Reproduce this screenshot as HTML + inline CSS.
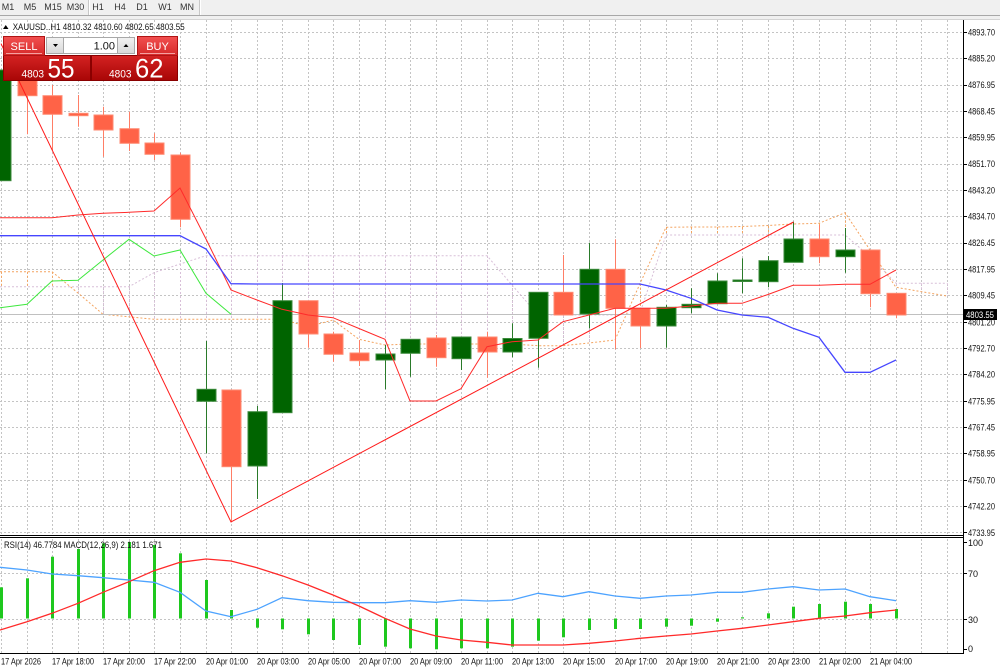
<!DOCTYPE html>
<html><head><meta charset="utf-8"><style>
html,body{margin:0;padding:0;background:#fff;}
svg{display:block;}
text{font-family:"Liberation Sans",Arial,sans-serif;}
</style></head><body>
<svg width="1000" height="667" viewBox="0 0 1000 667" xmlns="http://www.w3.org/2000/svg">
<defs>
<linearGradient id="gBtn" x1="0" y1="0" x2="0" y2="1"><stop offset="0" stop-color="#f25050"/><stop offset="1" stop-color="#d62a2a"/></linearGradient>
<linearGradient id="gPx" x1="0" y1="0" x2="0" y2="1"><stop offset="0" stop-color="#d42222"/><stop offset="1" stop-color="#a80606"/></linearGradient>
<linearGradient id="gGray" x1="0" y1="0" x2="0" y2="1"><stop offset="0" stop-color="#f2f2f2"/><stop offset="1" stop-color="#d8d8d8"/></linearGradient>
</defs>
<rect x="0" y="0" width="1000" height="667" fill="#fff"/>
<!-- toolbar -->
<rect x="0" y="0" width="1000" height="20" fill="#f0f0f0"/>
<line x1="0" y1="15.5" x2="1000" y2="15.5" stroke="#a8a8a8"/>
<line x1="0" y1="19.5" x2="1000" y2="19.5" stroke="#d4d4d4"/>
<line x1="88.5" y1="0" x2="88.5" y2="15" stroke="#c8c8c8"/>
<line x1="89.5" y1="0" x2="89.5" y2="15" stroke="#ffffff"/>
<line x1="199.5" y1="0" x2="199.5" y2="15" stroke="#c8c8c8"/>
<line x1="200.5" y1="0" x2="200.5" y2="15" stroke="#ffffff"/>
<g font-size="9" fill="#333" text-anchor="middle">
<text x="8" y="10">M1</text><text x="30" y="10">M5</text><text x="53" y="10">M15</text><text x="75.5" y="10">M30</text>
<text x="98" y="10">H1</text><text x="120" y="10">H4</text><text x="142" y="10">D1</text><text x="165" y="10">W1</text><text x="187" y="10">MN</text>
</g>

<!-- vertical grid -->
<g stroke="#c4c4c4" stroke-width="1" stroke-dasharray="2,2">
<path d="M1.5 20V535M27.5 20V535M52.5 20V535M78.5 20V535M103.5 20V535M129.5 20V535M154.5 20V535M180.5 20V535M206.5 20V535M231.5 20V535M257.5 20V535M282.5 20V535M308.5 20V535M333.5 20V535M359.5 20V535M385.5 20V535M410.5 20V535M436.5 20V535M461.5 20V535M487.5 20V535M512.5 20V535M538.5 20V535M563.5 20V535M589.5 20V535M615.5 20V535M640.5 20V535M666.5 20V535M691.5 20V535M717.5 20V535M742.5 20V535M768.5 20V535M793.5 20V535M819.5 20V535M845.5 20V535M870.5 20V535M896.5 20V535M921.5 20V535M947.5 20V535"/>
<path d="M1.5 539V653M27.5 539V653M52.5 539V653M78.5 539V653M103.5 539V653M129.5 539V653M154.5 539V653M180.5 539V653M206.5 539V653M231.5 539V653M257.5 539V653M282.5 539V653M308.5 539V653M333.5 539V653M359.5 539V653M385.5 539V653M410.5 539V653M436.5 539V653M461.5 539V653M487.5 539V653M512.5 539V653M538.5 539V653M563.5 539V653M589.5 539V653M615.5 539V653M640.5 539V653M666.5 539V653M691.5 539V653M717.5 539V653M742.5 539V653M768.5 539V653M793.5 539V653M819.5 539V653M845.5 539V653M870.5 539V653M896.5 539V653M921.5 539V653M947.5 539V653"/>
<path d="M0 32.5H963M0 58.5H963M0 85.5H963M0 111.5H963M0 137.5H963M0 164.5H963M0 190.5H963M0 216.5H963M0 243.5H963M0 269.5H963M0 295.5H963M0 322.5H963M0 348.5H963M0 374.5H963M0 401.5H963M0 427.5H963M0 453.5H963M0 480.5H963M0 506.5H963M0 532.5H963"/>
<path d="M0 573.5H963M0 619.5H963"/>
</g>

<!-- cloud histogram -->
<g stroke-width="1" stroke-dasharray="2,2">
<path stroke="#F4A460" d="M1.5 271.7V286.7M27.5 271.7V286.7M52.5 271.7V286.7M640.5 283.6V313M666.5 227V235M691.5 227V235M717.5 227V235M742.5 227V235M768.5 226V235M793.5 224V235M819.5 223.3V235M845.5 212.7V235M870.5 250V256.7"/>
<path stroke="#D8BFD8" d="M78.5 286.7V293M103.5 286.7V314.3M129.5 286.7V316.8M154.5 272.7V319.3M180.5 264V319.3M206.5 255.7V319.3M231.5 255.7V319.3M257.5 255.7V319.3M282.5 255.7V319.3M308.5 255.7V326.7M333.5 255.7V320M359.5 255.7V339.3M385.5 255.7V345M410.5 255.7V344M436.5 255.7V344M461.5 255.7V344M487.5 255.7V344M512.5 285V344M538.5 315V345.7M563.5 315V345.7M589.5 315V343M615.5 315V340M896.5 283.3V287.3M921.5 283.3V291.6M947.5 283.3V296"/>
<polyline fill="none" stroke="#F4A460" points="0,271.7 27,271.7 52,271.7 78,293 103,314.3 129,316.8 154,319.3 180,319.3 206,319.3 231,319.3 257,319.3 282,319.3 308,326.7 333,320 359,339.3 385,345 410,344 436,344 461,344 487,344 512,344 538,345.7 563,345.7 589,343 615,340 640,283.6 666,227.3 691,227 717,227 742,226.5 768,225.5 793,224 819,223.3 845,212.7 870,250 896,287.3 921,291.6 947,296"/>
<polyline fill="none" stroke="#D8BFD8" points="0,286.7 27,286.7 52,286.7 78,286.7 103,286.7 129,286.7 154,272.7 180,264 206,255.7 231,255.7 257,255.7 282,255.7 308,255.7 333,255.7 359,255.7 385,255.7 410,255.7 436,255.7 461,255.7 487,255.7 512,285 538,315 563,315 589,315 615,315 640,313 666,235 691,235 717,235 742,235 768,235 793,235 819,235 845,235 870,256.7 896,283.3 921,283.3 947,283.3"/>
</g>

<!-- current price line -->
<line x1="0" y1="314.5" x2="963" y2="314.5" stroke="#c0c0c0"/>

<!-- candles: wicks -->
<g stroke-width="1">
<path stroke="#ff7e66" d="M27.5 70V134.3M52.5 85V150M78.5 95V126.7M103.5 106.7V156.7M129.5 111.7V151M154.5 133.3V160M180.5 152.7V227.3M231.5 390V522.3M308.5 300.7V347.7M333.5 331.7V361.7M359.5 340V366M436.5 335V366.7M487.5 331.7V377.7M563.5 255V315M615.5 239.3V349.3M640.5 308V348.3M819.5 225V263.3M870.5 250V307.3M896.5 293V318.3"/>
<path stroke="#2a7a2a" d="M1.5 70V181M206.5 341V453.3M257.5 406V499M282.5 283V412.7M385.5 345V389.3M410.5 339V376.7M461.5 337V370M512.5 323.3V357.3M538.5 292V367.7M589.5 242.7V328.3M666.5 305V347.7M691.5 288.3V313.3M717.5 273.3V303.7M742.5 258.3V293.3M768.5 256V287.3M793.5 221.7V262.3M845.5 228V272.7"/>
</g>
<!-- bear bodies -->
<g fill="#FF6347" stroke="#ff8a72" stroke-width="1">
<rect x="18" y="70" width="19" height="25.7"/>
<rect x="43" y="95.7" width="19" height="18.6"/>
<rect x="69" y="113.3" width="19" height="2.4"/>
<rect x="94" y="115" width="19" height="15"/>
<rect x="120" y="128.7" width="19" height="14.6"/>
<rect x="145" y="143" width="19" height="11.3"/>
<rect x="171" y="155" width="19" height="64.3"/>
<rect x="222" y="390" width="19" height="76.7"/>
<rect x="299" y="300.7" width="19" height="33.3"/>
<rect x="324" y="334" width="19" height="20.3"/>
<rect x="350" y="353" width="19" height="7.7"/>
<rect x="427" y="338" width="19" height="19.7"/>
<rect x="478" y="337" width="19" height="15"/>
<rect x="554" y="292.3" width="19" height="22.7"/>
<rect x="606" y="269.3" width="19" height="39"/>
<rect x="631" y="308.3" width="19" height="17.7"/>
<rect x="810" y="239" width="19" height="17.7"/>
<rect x="861" y="250" width="19" height="43.7"/>
<rect x="887" y="293.3" width="19" height="21.7"/>
</g>
<!-- bull bodies -->
<g fill="#006400" stroke="#3b8a3b" stroke-width="1">
<rect x="-8" y="70" width="19" height="110.7"/>
<rect x="197" y="389.3" width="19" height="12"/>
<rect x="248" y="411.7" width="19" height="54.3"/>
<rect x="273" y="300.7" width="19" height="112"/>
<rect x="376" y="354" width="19" height="6"/>
<rect x="401" y="339.3" width="19" height="14"/>
<rect x="452" y="337" width="19" height="21.7"/>
<rect x="503" y="338.5" width="19" height="13.5"/>
<rect x="529" y="292.3" width="19" height="46"/>
<rect x="580" y="269.3" width="19" height="44.7"/>
<rect x="657" y="307.3" width="19" height="18.7"/>
<rect x="682" y="304.3" width="19" height="3.4"/>
<rect x="708" y="281" width="19" height="22.7"/>
<rect x="733" y="280" width="19" height="1.5"/>
<rect x="759" y="260.7" width="19" height="21"/>
<rect x="784" y="239" width="19" height="23.3"/>
<rect x="836" y="250" width="19" height="6.7"/>
</g>

<!-- indicator lines main -->
<polyline fill="none" stroke="#ff2a2a" stroke-width="1" points="0,217.7 27,217.7 52,217.7 78,215 103,213.3 129,212.3 154,211 180,188 206,239 231,290 257,300 282,309.3 308,315 333,317.7 359,328.5 385,339.3 410,401 436,401 461,388.7 487,346.7 512,341.7 538,340 563,321.7 589,315 615,308.3 640,308.3 666,308.3 691,306 717,303.3 742,303.3 768,294.5 793,285.3 819,285.3 845,284.3 870,284.3 896,270"/>
<polyline fill="none" stroke="#4646ff" stroke-width="1.3" points="0,235.7 27,235.7 52,235.7 78,235.7 103,235.7 129,235.7 154,235.7 180,235.7 206,249 231,283.7 257,284 282,284 308,284 333,284 359,284 385,284 410,284 436,284 461,284 487,284 512,284 538,284 563,284 589,284 615,284 640,284 666,290 691,298.3 717,310 742,315 768,317.3 793,328.3 819,337.3 845,372.3 870,372.3 896,360"/>
<polyline fill="none" stroke="#3ee83e" stroke-width="1" points="0,307.7 27,304.3 52,281 78,280.3 103,260 129,239.3 154,256 180,250 206,293.3 231,314.3"/>
<polyline fill="none" stroke="#ff1a1a" stroke-width="1" points="1,43.6 231,522 793.5,222"/>

<!-- panel borders -->
<line x1="0" y1="535.5" x2="964" y2="535.5" stroke="#000"/>
<line x1="0" y1="537.5" x2="964" y2="537.5" stroke="#000"/>
<line x1="0" y1="653.5" x2="964" y2="653.5" stroke="#000"/>
<line x1="963.5" y1="20" x2="963.5" y2="654" stroke="#000"/>

<!-- MACD bars -->
<g fill="#1ec81e">
<rect x="0" y="587.3" width="3" height="31.2"/>
<rect x="26" y="578.3" width="3" height="40.2"/>
<rect x="51" y="556.7" width="3" height="61.8"/>
<rect x="77" y="549" width="3" height="69.5"/>
<rect x="102" y="543.3" width="3" height="75.2"/>
<rect x="128" y="542" width="3" height="76.5"/>
<rect x="153" y="545" width="3" height="73.5"/>
<rect x="179" y="553.3" width="3" height="65.2"/>
<rect x="205" y="580" width="3" height="38.5"/>
<rect x="230" y="610" width="3" height="8.5"/>
<rect x="256" y="618.5" width="3" height="9.2"/>
<rect x="281" y="618.5" width="3" height="10.8"/>
<rect x="307" y="618.5" width="3" height="15.8"/>
<rect x="332" y="618.5" width="3" height="21.5"/>
<rect x="358" y="618.5" width="3" height="26.5"/>
<rect x="384" y="618.5" width="3" height="28.2"/>
<rect x="409" y="618.5" width="3" height="29.8"/>
<rect x="435" y="618.5" width="3" height="30.8"/>
<rect x="460" y="618.5" width="3" height="29.8"/>
<rect x="486" y="618.5" width="3" height="29.8"/>
<rect x="511" y="618.5" width="3" height="28.2"/>
<rect x="537" y="618.5" width="3" height="22.2"/>
<rect x="562" y="618.5" width="3" height="18.8"/>
<rect x="588" y="618.5" width="3" height="11.5"/>
<rect x="614" y="618.5" width="3" height="10.5"/>
<rect x="639" y="618.5" width="3" height="10.5"/>
<rect x="665" y="618.5" width="3" height="8.2"/>
<rect x="690" y="618.5" width="3" height="7.2"/>
<rect x="716" y="618.5" width="3" height="3.2"/>
<rect x="741" y="617.3" width="3" height="1.2"/>
<rect x="767" y="613.3" width="3" height="5.2"/>
<rect x="792" y="606.7" width="3" height="11.8"/>
<rect x="818" y="604" width="3" height="14.5"/>
<rect x="844" y="601.7" width="3" height="16.8"/>
<rect x="869" y="604" width="3" height="14.5"/>
<rect x="895" y="609" width="3" height="9.5"/>
</g>
<polyline fill="none" stroke="#4da3ff" stroke-width="1.3" points="0,567.3 27,570 52,574 78,575.7 103,577.7 129,580 154,582.3 180,592.3 206,611 231,616.7 257,609.3 282,597.7 308,600.7 333,602.3 359,602.7 385,602.7 410,600.7 436,602.3 461,600 487,601 512,600 538,593.3 563,596.7 589,591.7 615,596 640,598.3 666,596 691,595 717,592.3 742,592.3 768,589 793,586.7 819,590 845,589 870,596.7 896,600.7"/>
<polyline fill="none" stroke="#ff2a2a" stroke-width="1.3" points="0,630 27,621.7 52,613.3 78,603.3 103,592.3 129,581.7 154,570.7 180,562.3 206,559 231,561 257,567.7 282,575.7 308,585 333,595 359,606 385,618.3 410,629 436,636 461,640 487,642.3 512,645 538,645 563,645 589,643.3 615,641 640,638.3 666,636 691,634 717,631 742,628.3 768,625 793,621.7 819,618.3 845,616 870,612.7 896,610"/>
<text x="4" y="548" font-size="9" fill="#111" textLength="158" lengthAdjust="spacingAndGlyphs">RSI(14) 46.7784  MACD(12,26,9) 2.181 1.671</text>

<!-- price axis -->
<g stroke="#000">
<path d="M963 32.5H967M963 58.5H967M963 85.5H967M963 111.5H967M963 137.5H967M963 164.5H967M963 190.5H967M963 216.5H967M963 243.5H967M963 269.5H967M963 295.5H967M963 322.5H967M963 348.5H967M963 374.5H967M963 401.5H967M963 427.5H967M963 453.5H967M963 480.5H967M963 506.5H967M963 532.5H967M963 542.5H967M963 573.5H967M963 619.5H967M963 649.5H967"/>
</g>
<g font-size="9" fill="#111">
<text x="968" y="35.5" textLength="27" lengthAdjust="spacingAndGlyphs">4893.70</text>
<text x="968" y="61.5" textLength="27" lengthAdjust="spacingAndGlyphs">4885.20</text>
<text x="968" y="88" textLength="27" lengthAdjust="spacingAndGlyphs">4876.95</text>
<text x="968" y="114.5" textLength="27" lengthAdjust="spacingAndGlyphs">4868.45</text>
<text x="968" y="140.5" textLength="27" lengthAdjust="spacingAndGlyphs">4859.95</text>
<text x="968" y="167" textLength="27" lengthAdjust="spacingAndGlyphs">4851.70</text>
<text x="968" y="193.5" textLength="27" lengthAdjust="spacingAndGlyphs">4843.20</text>
<text x="968" y="219.5" textLength="27" lengthAdjust="spacingAndGlyphs">4834.70</text>
<text x="968" y="246" textLength="27" lengthAdjust="spacingAndGlyphs">4826.45</text>
<text x="968" y="272.5" textLength="27" lengthAdjust="spacingAndGlyphs">4817.95</text>
<text x="968" y="298.5" textLength="27" lengthAdjust="spacingAndGlyphs">4809.45</text>
<text x="968" y="325.5" textLength="27" lengthAdjust="spacingAndGlyphs">4801.20</text>
<text x="968" y="351.5" textLength="27" lengthAdjust="spacingAndGlyphs">4792.70</text>
<text x="968" y="377.5" textLength="27" lengthAdjust="spacingAndGlyphs">4784.20</text>
<text x="968" y="404.5" textLength="27" lengthAdjust="spacingAndGlyphs">4775.95</text>
<text x="968" y="430.5" textLength="27" lengthAdjust="spacingAndGlyphs">4767.45</text>
<text x="968" y="456.5" textLength="27" lengthAdjust="spacingAndGlyphs">4758.95</text>
<text x="968" y="483.5" textLength="27" lengthAdjust="spacingAndGlyphs">4750.70</text>
<text x="968" y="509.5" textLength="27" lengthAdjust="spacingAndGlyphs">4742.20</text>
<text x="968" y="536" textLength="27" lengthAdjust="spacingAndGlyphs">4733.95</text>
<text x="968" y="546">100</text>
<text x="968" y="577">70</text>
<text x="968" y="623">30</text>
<text x="968" y="652">0</text>
</g>
<rect x="964" y="309" width="33" height="11" fill="#000"/>
<text x="966" y="318" font-size="9" fill="#fff" textLength="28" lengthAdjust="spacingAndGlyphs">4803.55</text>

<!-- time axis -->
<g font-size="9" fill="#111">
<text x="1" y="664.5" textLength="40" lengthAdjust="spacingAndGlyphs">17 Apr 2026</text>
<text x="52" y="664.5" textLength="42" lengthAdjust="spacingAndGlyphs">17 Apr 18:00</text>
<text x="103" y="664.5" textLength="42" lengthAdjust="spacingAndGlyphs">17 Apr 20:00</text>
<text x="154" y="664.5" textLength="42" lengthAdjust="spacingAndGlyphs">17 Apr 22:00</text>
<text x="206" y="664.5" textLength="42" lengthAdjust="spacingAndGlyphs">20 Apr 01:00</text>
<text x="257" y="664.5" textLength="42" lengthAdjust="spacingAndGlyphs">20 Apr 03:00</text>
<text x="308" y="664.5" textLength="42" lengthAdjust="spacingAndGlyphs">20 Apr 05:00</text>
<text x="359" y="664.5" textLength="42" lengthAdjust="spacingAndGlyphs">20 Apr 07:00</text>
<text x="410" y="664.5" textLength="42" lengthAdjust="spacingAndGlyphs">20 Apr 09:00</text>
<text x="461" y="664.5" textLength="42" lengthAdjust="spacingAndGlyphs">20 Apr 11:00</text>
<text x="512" y="664.5" textLength="42" lengthAdjust="spacingAndGlyphs">20 Apr 13:00</text>
<text x="563" y="664.5" textLength="42" lengthAdjust="spacingAndGlyphs">20 Apr 15:00</text>
<text x="615" y="664.5" textLength="42" lengthAdjust="spacingAndGlyphs">20 Apr 17:00</text>
<text x="666" y="664.5" textLength="42" lengthAdjust="spacingAndGlyphs">20 Apr 19:00</text>
<text x="717" y="664.5" textLength="42" lengthAdjust="spacingAndGlyphs">20 Apr 21:00</text>
<text x="768" y="664.5" textLength="42" lengthAdjust="spacingAndGlyphs">20 Apr 23:00</text>
<text x="819" y="664.5" textLength="42" lengthAdjust="spacingAndGlyphs">21 Apr 02:00</text>
<text x="870" y="664.5" textLength="42" lengthAdjust="spacingAndGlyphs">21 Apr 04:00</text>
</g>

<!-- title -->
<polygon points="3,29 8.5,29 5.75,25" fill="#000"/>
<text x="12.7" y="30" font-size="9" fill="#111" textLength="172" lengthAdjust="spacingAndGlyphs">XAUUSD..H1  4810.32 4810.60 4802.65 4803.55</text>

<!-- trade panel -->
<rect x="3.5" y="55.5" width="87" height="25" fill="url(#gPx)" stroke="#8a0000"/>
<rect x="91.5" y="55.5" width="86" height="25" fill="url(#gPx)" stroke="#8a0000"/>
<rect x="3.5" y="36.5" width="41" height="19" fill="url(#gBtn)" stroke="#b01414"/>
<line x1="6" y1="53.5" x2="42" y2="53.5" stroke="#f5a0a0"/>
<rect x="137.5" y="36.5" width="40" height="19" fill="url(#gBtn)" stroke="#b01414"/>
<line x1="140" y1="53.5" x2="175" y2="53.5" stroke="#f5a0a0"/>
<rect x="46.5" y="37.5" width="17" height="16" fill="url(#gGray)" stroke="#a8a8a8"/>
<rect x="63.5" y="37.5" width="54" height="16" fill="#fff" stroke="#a8a8a8"/>
<rect x="117.5" y="37.5" width="17" height="16" fill="url(#gGray)" stroke="#a8a8a8"/>
<polygon points="53,44 58,44 55.5,47" fill="#000"/>
<polygon points="123.5,47 128.5,47 126,44" fill="#000"/>
<text x="115" y="49.5" font-size="11" fill="#111" text-anchor="end">1.00</text>
<text x="24" y="50" font-size="11" fill="#fff" text-anchor="middle">SELL</text>
<text x="157.5" y="50" font-size="11" fill="#fff" text-anchor="middle">BUY</text>
<text x="21.5" y="77.5" font-size="11" fill="#fff" textLength="22.5" lengthAdjust="spacingAndGlyphs">4803</text>
<text x="47.5" y="77.5" font-size="27" fill="#fff" textLength="27" lengthAdjust="spacingAndGlyphs">55</text>
<text x="109" y="77.5" font-size="11" fill="#fff" textLength="22.5" lengthAdjust="spacingAndGlyphs">4803</text>
<text x="135" y="77.5" font-size="27" fill="#fff" textLength="28.5" lengthAdjust="spacingAndGlyphs">62</text>
</svg>
</body></html>
